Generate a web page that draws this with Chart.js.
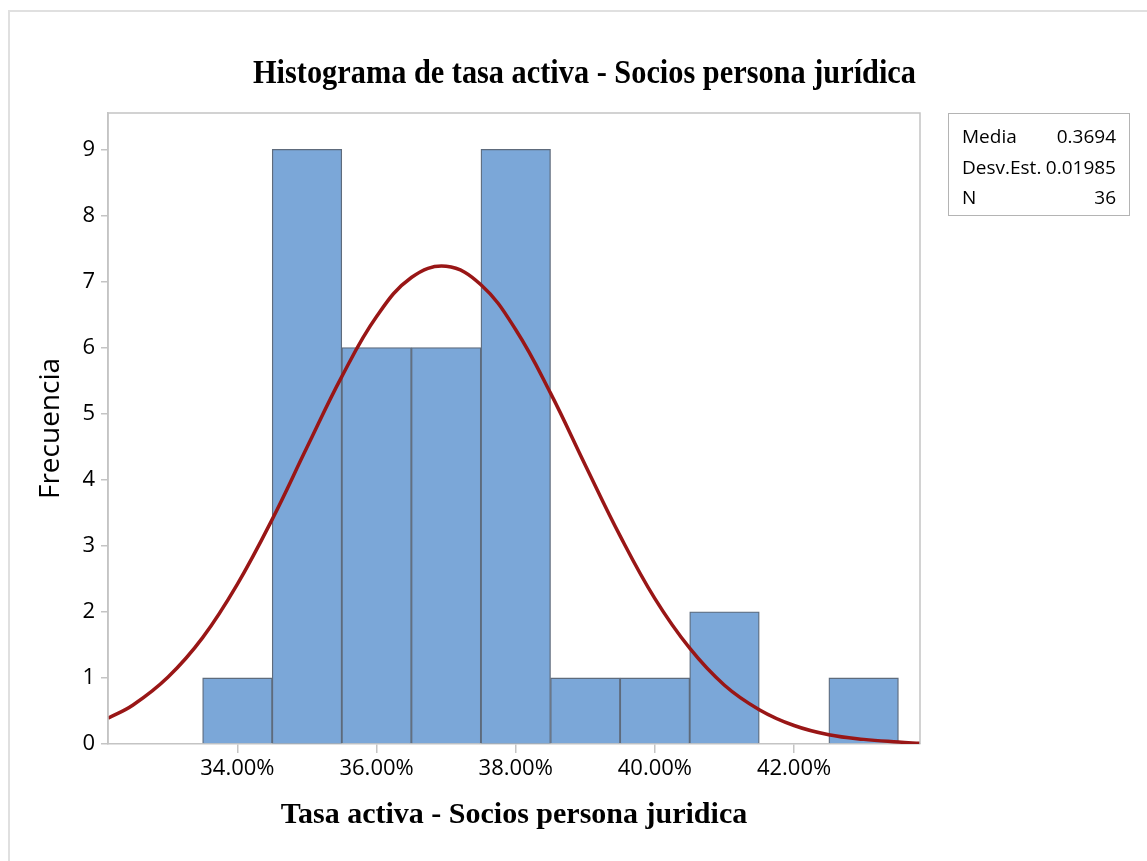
<!DOCTYPE html>
<html>
<head>
<meta charset="utf-8">
<script src="https://cdn.jsdelivr.net/npm/chart.js@4"></script>
<style>
  html, body { margin: 0; padding: 0; background: #fff; }
  body { width: 1147px; height: 861px; position: relative; overflow: hidden; }
  .frame { position: absolute; left: 8px; top: 10px; width: 1200px; height: 900px;
    border-left: 2px solid #e0e0e0; border-top: 2px solid #e0e0e0; }
  #chart { position: absolute; left: 0; top: 0; }
  .main-title { position: absolute; left: 253px; top: 56px; white-space: nowrap;
    font: bold 33px/33px "Liberation Serif", "Times New Roman", serif; color: #000;
    transform-origin: 0 0; }
  .stats-box { position: absolute; left: 948px; top: 113px; width: 180px; height: 101px;
    border: 1px solid #b4b4b4; font: 19px "Open Sans", sans-serif; color: #000; }
  .stats-row { position: absolute; left: 13px; right: 13px; height: 26px; line-height: 26px; }
  .stats-row .v { position: absolute; right: 0; top: 0; }
</style>
</head>
<body>
<div class="frame"></div>
<canvas id="chart" width="1147" height="861"></canvas>
<div class="main-title" id="mainTitle">Histograma de tasa activa - Socios persona jurídica</div>
<div class="stats-box">
  <div class="stats-row" style="top:9px"><span>Media</span><span class="v">0.3694</span></div>
  <div class="stats-row" style="top:40px"><span>Desv.Est.</span><span class="v">0.01985</span></div>
  <div class="stats-row" style="top:70px"><span>N</span><span class="v">36</span></div>
</div>
<script>
// histogram bins (centre of each 1% bin, in %)
const binCenters = [34, 35, 36, 37, 38, 39, 40, 41, 42, 43];
const binCounts  = [1, 9, 6, 6, 9, 1, 1, 2, 0, 1];

// fitted normal curve
const curveX = [32.14, 32.5, 33, 33.5, 34, 34.5, 35, 35.5, 36, 36.5, 37, 37.5, 38, 38.5,
                39, 39.5, 40, 40.5, 41, 41.5, 42, 42.5, 43, 43.5, 43.81];
const curveY = [0.39, 0.59, 1.01, 1.61, 2.42, 3.40, 4.49, 5.56, 6.47, 7.06, 7.23, 6.95, 6.27, 5.31,
                4.22, 3.15, 2.20, 1.45, 0.89, 0.52, 0.28, 0.14, 0.07, 0.03, 0.01];

const xTickValues = [34, 36, 38, 40, 42];
const yTickValues = [0, 1, 2, 3, 4, 5, 6, 7, 8, 9];

const axisGray = '#c4c4c4';

// fit the main title to the reference width
const t = document.getElementById('mainTitle');
t.style.transform = 'scaleX(' + (663 / t.getBoundingClientRect().width) + ')';

const plotFrame = {
  id: 'plotFrame',
  afterDatasetsDraw(chart) {
    const { ctx, chartArea: a } = chart;
    ctx.save();
    ctx.strokeStyle = axisGray;
    ctx.lineWidth = 1.5;
    ctx.beginPath();
    ctx.moveTo(a.left, a.bottom);
    ctx.lineTo(a.left, a.top);
    ctx.lineTo(a.right, a.top);
    ctx.lineTo(a.right, a.bottom);
    ctx.stroke();
    ctx.restore();
  }
};

function draw() {
  new Chart(document.getElementById('chart').getContext('2d'), {
    type: 'bar',
    data: {
      datasets: [
        {
          type: 'line',
          label: 'Normal',
          data: curveX.map((x, i) => ({ x: x, y: curveY[i] })),
          borderColor: '#991616',
          borderWidth: 3.5,
          pointRadius: 0,
          tension: 0.4,
          fill: false,
          order: 0
        },
        {
          label: 'Frecuencia',
          data: binCenters.map((x, i) => ({ x: x, y: binCounts[i] })),
          backgroundColor: '#7ba7d8',
          borderColor: '#5e6b7c',
          borderWidth: 1.3,
          barPercentage: 1,
          categoryPercentage: 1,
          order: 1
        }
      ]
    },
    options: {
      responsive: false,
      animation: false,
      layout: { padding: { left: 0, top: 113, right: 227, bottom: 0 } },
      plugins: {
        legend: { display: false },
        tooltip: { enabled: false }
      },
      scales: {
        x: {
          type: 'linear',
          min: 32.14,
          max: 43.81,
          offset: false,
          afterFit: s => { s.height = 117; },
          afterBuildTicks: s => { s.ticks = xTickValues.map(v => ({ value: v })); },
          grid: { display: true, offset: false, drawOnChartArea: false, drawTicks: true, tickLength: 9, color: axisGray, lineWidth: 1.5 },
          border: { display: true, color: axisGray, width: 1.5 },
          ticks: {
            padding: 3,
            color: '#000',
            font: { family: 'Open Sans', size: 22 },
            callback: v => v.toFixed(2) + '%'
          },
          title: {
            display: true,
            text: 'Tasa activa - Socios persona juridica',
            color: '#000',
            font: { family: 'Liberation Serif', size: 30, weight: 'bold' },
            padding: { top: 0, bottom: 28 }
          }
        },
        y: {
          min: 0,
          max: 9.55,
          afterFit: s => { s.width = 108; },
          afterBuildTicks: s => { s.ticks = yTickValues.map(v => ({ value: v })); },
          grid: { display: true, offset: false, drawOnChartArea: false, drawTicks: true, tickLength: 7, color: axisGray, lineWidth: 1.5 },
          border: { display: true, color: axisGray, width: 1.5 },
          ticks: {
            padding: 6,
            color: '#000',
            font: { family: 'Open Sans', size: 22 }
          },
          title: {
            display: true,
            text: 'Frecuencia',
            color: '#000',
            font: { family: 'Open Sans', size: 28 },
            padding: { top: 34, bottom: 0 }
          }
        }
      }
    },
    plugins: [plotFrame]
  });
}

Promise.all([
  document.fonts.load('22px "Open Sans"'),
  document.fonts.load('bold 30px "Liberation Serif"')
]).then(draw, draw);
</script>
</body>
</html>
